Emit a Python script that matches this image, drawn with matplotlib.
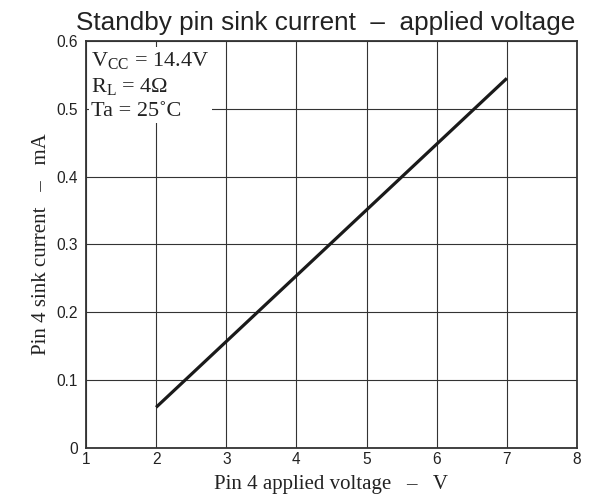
import matplotlib
matplotlib.use("Agg")
import matplotlib.pyplot as plt

# measured end points of the line
voltage = [2, 7]
current = [0.06, 0.545]

x_ticks = [1, 2, 3, 4, 5, 6, 7, 8]
y_ticks = [0, 0.1, 0.2, 0.3, 0.4, 0.5, 0.6]
y_tick_labels = ["0", "0.1", "0.2", "0.3", "0.4", "0.5", "0.6"]

plt.rcParams["mathtext.fontset"] = "custom"
plt.rcParams["mathtext.rm"] = "Liberation Serif"

fig = plt.figure(figsize=(5.97, 4.97), dpi=100)
ax = fig.add_axes([0.144, 0.0986, 0.8225, 0.8189])

ax.plot(voltage, current, color="#1a1a1a", lw=2.3, solid_capstyle="butt", zorder=3)

ax.set_xlim(1, 8)
ax.set_ylim(0, 0.6)
ax.set_xticks(x_ticks)
ax.set_yticks(y_ticks)
ax.set_yticklabels(y_tick_labels)
ax.tick_params(length=0, labelsize=11.2, colors="#222222")
ax.tick_params(axis="x", pad=3)
ax.tick_params(axis="y", pad=6)
for lab in ax.get_xticklabels() + ax.get_yticklabels():
    lab.set_family("Liberation Sans")
ax.grid(True, color="#333333", lw=0.8)
for s in ax.spines.values():
    s.set_color("#333333")
    s.set_linewidth(1.3)

ax.set_xlabel("Pin 4 applied voltage   \u2013   V", family="Liberation Serif",
              fontsize=15, color="#222222", labelpad=6)
ax.set_ylabel("Pin 4 sink current   \u2013   mA", family="Liberation Serif",
              fontsize=15, color="#222222", labelpad=4)
fig.text(0.545, 0.94, "Standby pin sink current  \u2013  applied voltage",
         family="Liberation Sans", fontsize=18.8, color="#222222",
         ha="center", va="baseline")

ax.text(0.011, 0.977,
        "V$_{\\rm CC}$ = 14.4V\nR$_{\\rm L}$ = 4\u03a9\nTa = 25\u02daC",
        transform=ax.transAxes, family="Liberation Serif", fontsize=16,
        color="#222222", va="top", ha="left", linespacing=1.27,
        bbox=dict(facecolor="white", edgecolor="none", pad=2), zorder=4)

fig.savefig("out.png", dpi=100)
